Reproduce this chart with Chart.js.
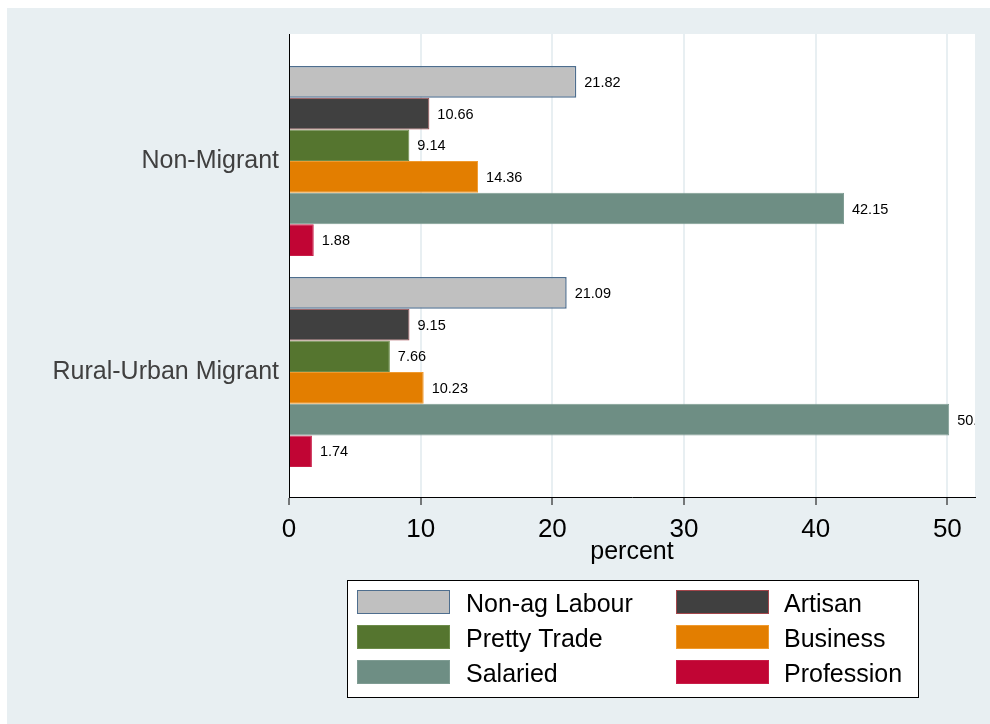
<!DOCTYPE html>
<html>
<head>
<meta charset="utf-8">
<script src="https://cdn.jsdelivr.net/npm/chart.js@4.4.1/dist/chart.umd.min.js"></script>
<style>
  html, body { margin: 0; padding: 0; background: #fff; }
  #wrap { position: relative; width: 990px; height: 724px; }
</style>
</head>
<body>
<div id="wrap"><canvas id="occChart"></canvas></div>
<script>
const groups = ['Non-Migrant', 'Rural-Urban Migrant'];
const occupations = ['Non-ag Labour', 'Artisan', 'Pretty Trade', 'Business', 'Salaried', 'Profession'];
const nonMigrant = [21.82, 10.66, 9.14, 14.36, 42.15, 1.88];
const ruralUrban = [21.09, 9.15, 7.66, 10.23, 50.14, 1.74];
const xTicks = [0, 10, 20, 30, 40, 50];

const fills = ['#c0c0c0', '#404040', '#55752f', '#e37e00', '#6e8e84', '#c10534'];
const edges = ['#4e6e8e', '#a4464b', '#6d8c4a', '#f09a2e', '#7f9c93', '#c81e48'];
const FONT = "'Liberation Sans', Arial, sans-serif";
const PAGE_BG = '#e8eff2';

const datasets = occupations.map((name, i) => ({
  label: name,
  data: [{ x: nonMigrant[i], y: 0 }, { x: ruralUrban[i], y: 1 }],
  backgroundColor: fills[i],
  borderColor: edges[i],
  borderWidth: i === 0 ? 1.5 : 1
}));

// page background + white plot region
const backdrop = {
  id: 'backdrop',
  beforeDraw(chart) {
    const { ctx, chartArea: a } = chart;
    ctx.save();
    ctx.fillStyle = PAGE_BG;
    ctx.fillRect(7, 8, chart.width - 7, chart.height - 8);
    ctx.fillStyle = '#ffffff';
    ctx.fillRect(a.left, a.top, a.right - a.left, a.bottom - a.top);
    ctx.restore();
  }
};

// value labels at bar ends, clipped to the plot region
const valueLabels = {
  id: 'valueLabels',
  afterDatasetsDraw(chart) {
    const { ctx, chartArea: a } = chart;
    ctx.save();
    ctx.beginPath();
    ctx.rect(a.left, a.top, a.right - a.left, a.bottom - a.top);
    ctx.clip();
    ctx.font = '14.5px ' + FONT;
    ctx.fillStyle = '#000';
    ctx.textAlign = 'left';
    ctx.textBaseline = 'middle';
    chart.data.datasets.forEach((ds, di) => {
      chart.getDatasetMeta(di).data.forEach((bar, j) => {
        ctx.fillText(ds.data[j].x.toFixed(2), bar.x + 8, bar.y + 1);
      });
    });
    ctx.restore();
  }
};

// two-column boxed legend below the axis
const boxLegend = {
  id: 'boxLegend',
  afterDraw(chart) {
    const { ctx } = chart;
    const box = { x: 347, y: 580, w: 571, h: 117 };
    ctx.save();
    ctx.fillStyle = '#fff';
    ctx.fillRect(box.x, box.y, box.w, box.h);
    ctx.strokeStyle = '#000';
    ctx.lineWidth = 1;
    ctx.strokeRect(box.x + 0.5, box.y + 0.5, box.w, box.h);
    ctx.font = '25px ' + FONT;
    ctx.textBaseline = 'middle';
    ctx.textAlign = 'left';
    chart.data.datasets.forEach((ds, i) => {
      const col = i % 2, row = Math.floor(i / 2);
      const sx = col ? 676 : 357;
      const sy = 590 + row * 35;
      ctx.fillStyle = ds.backgroundColor;
      ctx.fillRect(sx, sy, 93, 24);
      ctx.strokeStyle = ds.borderColor;
      ctx.strokeRect(sx + 0.5, sy + 0.5, 92, 23);
      ctx.fillStyle = '#000';
      ctx.fillText(ds.label, col ? 784 : 466, sy + 15);
    });
    ctx.restore();
  }
};

new Chart(document.getElementById('occChart'), {
  type: 'bar',
  data: { datasets: datasets },
  options: {
    indexAxis: 'y',
    responsive: true,
    maintainAspectRatio: false,
    animation: false,
    events: [],
    categoryPercentage: 0.9,
    barPercentage: 1,
    layout: { padding: { left: 0, top: 34, right: 15, bottom: 157 } },
    plugins: { legend: { display: false }, tooltip: { enabled: false } },
    scales: {
      y: {
        type: 'linear',
        reverse: true,
        offset: false,
        min: -0.602,
        max: 1.592,
        afterBuildTicks(scale) {
          scale.ticks = groups.map((g, i) => ({ value: i }));
        },
        afterFit(scale) { scale.width = 289; },
        grid: { display: false, drawTicks: false, offset: false },
        border: { display: true, color: '#000', width: 1 },
        ticks: {
          padding: 10,
          color: '#404040',
          font: { family: FONT, size: 25 },
          callback: (v) => groups[v]
        }
      },
      x: {
        type: 'linear',
        min: 0,
        max: 52.1,
        afterBuildTicks(scale) {
          scale.ticks = xTicks.map(v => ({ value: v }));
        },
        afterFit(scale) { scale.height = 70; },
        grid: {
          color: PAGE_BG,
          lineWidth: 2,
          tickColor: '#000',
          tickWidth: 1,
          tickLength: 8
        },
        border: { display: true, color: '#000', width: 1 },
        ticks: {
          padding: 9,
          color: '#000',
          font: { family: FONT, size: 26 }
        },
        title: {
          display: true,
          text: 'percent',
          color: '#000',
          padding: 0,
          font: { family: FONT, size: 25 }
        }
      }
    }
  },
  plugins: [backdrop, valueLabels, boxLegend]
});
</script>
</body>
</html>
